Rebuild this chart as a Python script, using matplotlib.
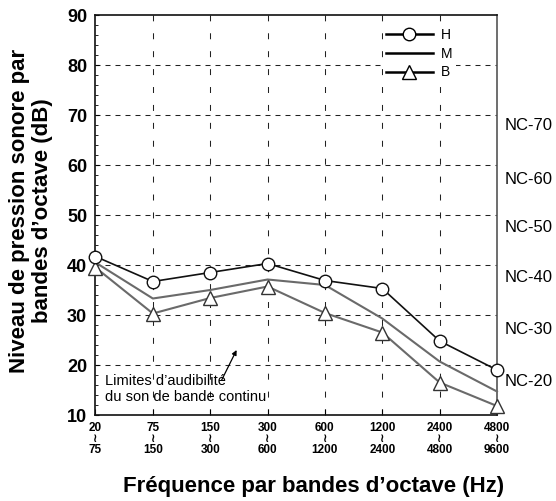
import matplotlib
matplotlib.use("Agg")
import matplotlib.pyplot as plt
from matplotlib.lines import Line2D
import matplotlib.transforms as mtransforms

plt.rcParams['font.family'] = ['Liberation Sans', 'DejaVu Sans']
plt.rcParams['lines.scale_dashes'] = False

# ---- data ----
band_low = ["20", "75", "150", "300", "600", "1200", "2400", "4800"]
band_high = ["75", "150", "300", "600", "1200", "2400", "4800", "9600"]
H = [41.7, 36.7, 38.5, 40.3, 36.9, 35.3, 24.8, 19.0]
M = [40.5, 33.3, 35.0, 37.1, 36.0, 29.3, 20.7, 14.7]
B = [39.5, 30.3, 33.4, 35.7, 30.4, 26.5, 16.5, 11.8]
nc_labels = ["NC-70", "NC-60", "NC-50", "NC-40", "NC-30", "NC-20"]
nc_levels = [68.0, 57.0, 47.4, 37.4, 27.2, 16.7]
y_ticks = [10, 20, 30, 40, 50, 60, 70, 80, 90]

W, Hh = 556, 501
fig = plt.figure(figsize=(W / 100, Hh / 100), dpi=100)
ax = fig.add_axes([95.5 / W, 1 - 415 / Hh, (497 - 95.5) / W, 400 / Hh])

x = list(range(len(band_low)))
gray = '#6a6a6a'

# grid
for yv in y_ticks[1:-1]:
    ax.axhline(yv, color='#222222', lw=0.75, ls=(0, (3.6, 3.6)), zorder=1)
for xv in x[1:-1]:
    ax.axvline(xv, color='#222222', lw=0.75, ls=(0, (4.3, 8.6)), zorder=1)

ax.plot(x, M, color=gray, lw=1.5, zorder=3, clip_on=False)
ax.plot(x, B, color=gray, lw=1.5, marker='^', ms=10, mfc='white',
        mec='#333333', mew=1.0, zorder=4, clip_on=False)
ax.plot(x, H, color='#111111', lw=1.2, marker='o', ms=9, mfc='white',
        mec='#111111', mew=1.0, zorder=5, clip_on=False)

ax.set_xlim(0, 7)
ax.set_ylim(10, 90)
ax.set_yticks(y_ticks)
ax.set_yticklabels([str(v) for v in y_ticks], fontsize=13, fontweight='bold')
ax.set_yticks(range(10, 91, 2), minor=True)
ax.tick_params(axis='y', which='major', direction='in', length=3, width=0.8, pad=6)
ax.tick_params(axis='y', which='minor', direction='in', length=2.5, width=0.6)
ax.set_xticks(x)
ax.set_xticklabels([f"{a}\n≀\n{b}" for a, b in zip(band_low, band_high)],
                   fontsize=8.5, fontweight='bold', linespacing=0.9)
ax.tick_params(axis='x', which='major', direction='in', length=4, width=0.8, pad=5)

for side in ['left', 'bottom', 'top']:
    ax.spines[side].set_linewidth(1.2)
    ax.spines[side].set_color('#111111')
ax.spines['right'].set_linewidth(1.2)
ax.spines['right'].set_color('#555555')

ax.set_xlabel("Fréquence par bandes d’octave (Hz)", fontsize=16, fontweight='bold')
ax.xaxis.set_label_coords(0.543, -0.178)
ax.xaxis.label.set_va('center')
ax.set_ylabel("Niveau de pression sonore par\nbandes d’octave (dB)", fontsize=16,
              fontweight='bold', linespacing=1.1)
ax.yaxis.label.set_va('center')
ax.yaxis.set_label_coords(-0.16, 0.51)

trans = mtransforms.blended_transform_factory(ax.transAxes, ax.transData)
for lab, lv in zip(nc_labels, nc_levels):
    ax.text(1.02, lv, lab, transform=trans, ha='left', va='center', fontsize=12)

ax.text(0.166, 15.2, "Limites d’audibilité\ndu son de bande continu",
        ha='left', va='center', fontsize=10.5, linespacing=1.2, zorder=6)
ax.annotate("", xy=(2.46, 23.0), xytext=(2.2, 17.0),
            arrowprops=dict(arrowstyle='-|>', color='black', lw=0.9,
                            mutation_scale=7, shrinkA=0, shrinkB=0), zorder=6)

handles = [
    Line2D([], [], color='black', lw=1.8, marker='o', ms=9, mfc='white', mec='black', mew=1.0),
    Line2D([], [], color='black', lw=1.8),
    Line2D([], [], color='black', lw=1.8, marker='^', ms=10, mfc='white', mec='black', mew=1.0),
]
leg = ax.legend(handles, ["H", "M", "B"], loc='upper left',
                bbox_to_anchor=((383 - 95.5) / 401.5, 1 - (25 - 15) / 400),
                fontsize=10, handlelength=3.4, handletextpad=0.6, labelspacing=0.35,
                borderpad=0.2, borderaxespad=0, numpoints=1, frameon=True,
                fancybox=False, framealpha=1)
leg.get_frame().set_edgecolor('none')
leg.get_frame().set_facecolor('white')
leg.set_zorder(7)

fig.savefig("out.png", dpi=100)
